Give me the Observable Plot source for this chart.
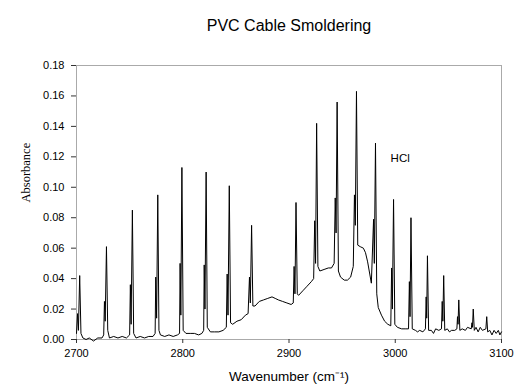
<!DOCTYPE html>
<html>
<head>
<meta charset="utf-8">
<script src="https://cdn.jsdelivr.net/npm/d3@7"></script>
<script src="https://cdn.jsdelivr.net/npm/@observablehq/plot@0.6"></script>
<style>
  html, body { margin: 0; padding: 0; background: #fff; }
  #chart { width: 527px; height: 391px; }
</style>
</head>
<body>
<div id="chart"></div>
<script>
const title = "PVC Cable Smoldering";
const xLabel = "Wavenumber (cm\u207B\u00B9)";
const yLabel = "Absorbance";
const annotation = "HCl";
const xTicks = [2700, 2800, 2900, 3000, 3100];
const yTicks = [0, 0.02, 0.04, 0.06, 0.08, 0.10, 0.12, 0.14, 0.16, 0.18];

const wavenumber = [
  2700.0, 2701.0, 2701.8, 2703.0, 2704.2, 2706, 2709, 2712, 2716, 2720, 2724,
  2725.6, 2726.3, 2727.0, 2728.2, 2729.4, 2731, 2735, 2739, 2743, 2747,
  2750.0, 2750.7, 2751.4, 2752.6, 2753.8, 2756, 2760, 2764, 2768, 2772,
  2774.0, 2774.6, 2775.4, 2776.5, 2777.6, 2779, 2783, 2787, 2791, 2795,
  2797.0, 2797.5, 2798.2, 2799.2, 2800.4, 2803, 2807, 2811, 2815, 2818,
  2819.7, 2820.2, 2820.9, 2822.0, 2823.1, 2826, 2830, 2834, 2838,
  2841.0, 2841.8, 2842.6, 2843.8, 2845.0, 2847, 2851, 2855, 2859,
  2861.5, 2862.8, 2863.6, 2864.8, 2866.0, 2868, 2872, 2876, 2880, 2884, 2887, 2890, 2894, 2898, 2902,
  2904.0, 2904.8, 2905.6, 2906.6, 2907.8, 2909, 2913, 2917, 2921,
  2923.2, 2924.2, 2925.0, 2926.0, 2927.2, 2929, 2933, 2937, 2940,
  2942.5, 2943.5, 2944.3, 2945.3, 2946.5, 2948.5, 2952, 2955, 2958,
  2960.5, 2961.6, 2962.4, 2963.5, 2964.7, 2967, 2970, 2972, 2974, 2976, 2977.5,
  2979.6, 2980.3, 2981.4, 2982.6, 2984, 2987, 2990, 2993,
  2995.8, 2996.6, 2997.3, 2998.4, 2999.6, 3002, 3006, 3010,
  3012.5, 3013.3, 3013.9, 3014.8, 3016.0, 3019, 3021, 3023, 3026,
  3028.4, 3029.1, 3029.6, 3030.3, 3031.4, 3034, 3036, 3038, 3041,
  3043.5, 3044.2, 3044.8, 3045.6, 3046.6, 3049, 3051, 3053, 3056,
  3058.0, 3058.6, 3059.1, 3059.8, 3060.8, 3063, 3066, 3068,
  3071.5, 3072.2, 3072.7, 3073.4, 3074.4, 3076, 3078, 3080, 3082,
  3085.3, 3086.1, 3087.0, 3089, 3091, 3093, 3095, 3097, 3098.5, 3100
];
const absorbance = [
  0.004, 0.017, 0.006, 0.042, 0.004, 0.001, 0.000, 0.001, -0.001, 0.001, 0.001,
  0.003, 0.025, 0.012, 0.061, 0.006, 0.001, 0.002, 0.001, 0.002, 0.001,
  0.003, 0.036, 0.010, 0.085, 0.004, 0.001, 0.002, 0.001, 0.002, 0.002,
  0.004, 0.041, 0.014, 0.095, 0.006, 0.003, 0.002, 0.003, 0.002, 0.003,
  0.004, 0.050, 0.016, 0.113, 0.006, 0.004, 0.004, 0.004, 0.003, 0.004,
  0.006, 0.049, 0.020, 0.110, 0.008, 0.005, 0.005, 0.005, 0.006,
  0.008, 0.043, 0.016, 0.101, 0.011, 0.010, 0.012, 0.013, 0.016,
  0.017, 0.041, 0.024, 0.075, 0.022, 0.022, 0.025, 0.026, 0.027, 0.028, 0.027, 0.026, 0.025, 0.024, 0.023,
  0.024, 0.048, 0.030, 0.090, 0.030, 0.029, 0.032, 0.035, 0.038,
  0.040, 0.078, 0.050, 0.142, 0.048, 0.045, 0.046, 0.047, 0.047,
  0.050, 0.093, 0.070, 0.156, 0.045, 0.041, 0.039, 0.039, 0.041,
  0.048, 0.095, 0.075, 0.163, 0.062, 0.061, 0.060, 0.057, 0.051, 0.043, 0.037,
  0.079, 0.050, 0.129, 0.030, 0.021, 0.016, 0.012, 0.010,
  0.009, 0.047, 0.020, 0.092, 0.010, 0.008, 0.007, 0.007,
  0.007, 0.038, 0.015, 0.080, 0.007, 0.006, 0.005, 0.006, 0.005,
  0.007, 0.028, 0.014, 0.055, 0.006, 0.006, 0.004, 0.007, 0.006,
  0.007, 0.025, 0.012, 0.042, 0.006, 0.007, 0.005, 0.006, 0.006,
  0.007, 0.015, 0.010, 0.026, 0.006, 0.007, 0.006, 0.008,
  0.007, 0.011, 0.008, 0.020, 0.006, 0.008, 0.005, 0.008, 0.006,
  0.007, 0.015, 0.005, 0.006, 0.003, 0.006, 0.004, 0.006, 0.003, 0.005
];

const data = wavenumber.map((x, i) => ({x, y: absorbance[i]}));

const chart = Plot.plot({
  width: 527,
  height: 391,
  marginLeft: 76,
  marginRight: 26,
  marginTop: 65,
  marginBottom: 52,
  style: {fontFamily: "'Liberation Sans', Arial, sans-serif", fontSize: "11px", color: "#000", background: "#fff"},
  x: {domain: [2700, 3100]},
  y: {domain: [0, 0.18]},
  marks: [
    Plot.frame({stroke: "#555", strokeDasharray: "1,1"}),
    Plot.axisX({ticks: xTicks, tickFormat: d3.format("d"), tickSize: 4, tickPadding: 6, label: null, fontSize: 11, stroke: "#333"}),
    Plot.axisY({ticks: yTicks, tickFormat: d3.format(".2f"), tickSize: 5, tickPadding: 7, label: null, fontSize: 11, stroke: "#333"}),
    Plot.line(data, {x: "x", y: "y", stroke: "#000", strokeWidth: 1}),
    Plot.text([annotation], {x: 2995.6, y: 0.119, text: d => d, textAnchor: "start", fontSize: 11.5}),
    Plot.text([title], {frameAnchor: "top", dy: -46, text: d => d, fontSize: 16}),
    Plot.text([xLabel], {frameAnchor: "bottom", dy: 41, text: d => d, fontSize: 13.5}),
    Plot.text([yLabel], {frameAnchor: "left", dx: -51, rotate: -90, text: d => d, fontSize: 12.5, fontFamily: "'Liberation Serif', 'Times New Roman', serif"})
  ]
});
document.getElementById("chart").appendChild(chart);
</script>
</body>
</html>
